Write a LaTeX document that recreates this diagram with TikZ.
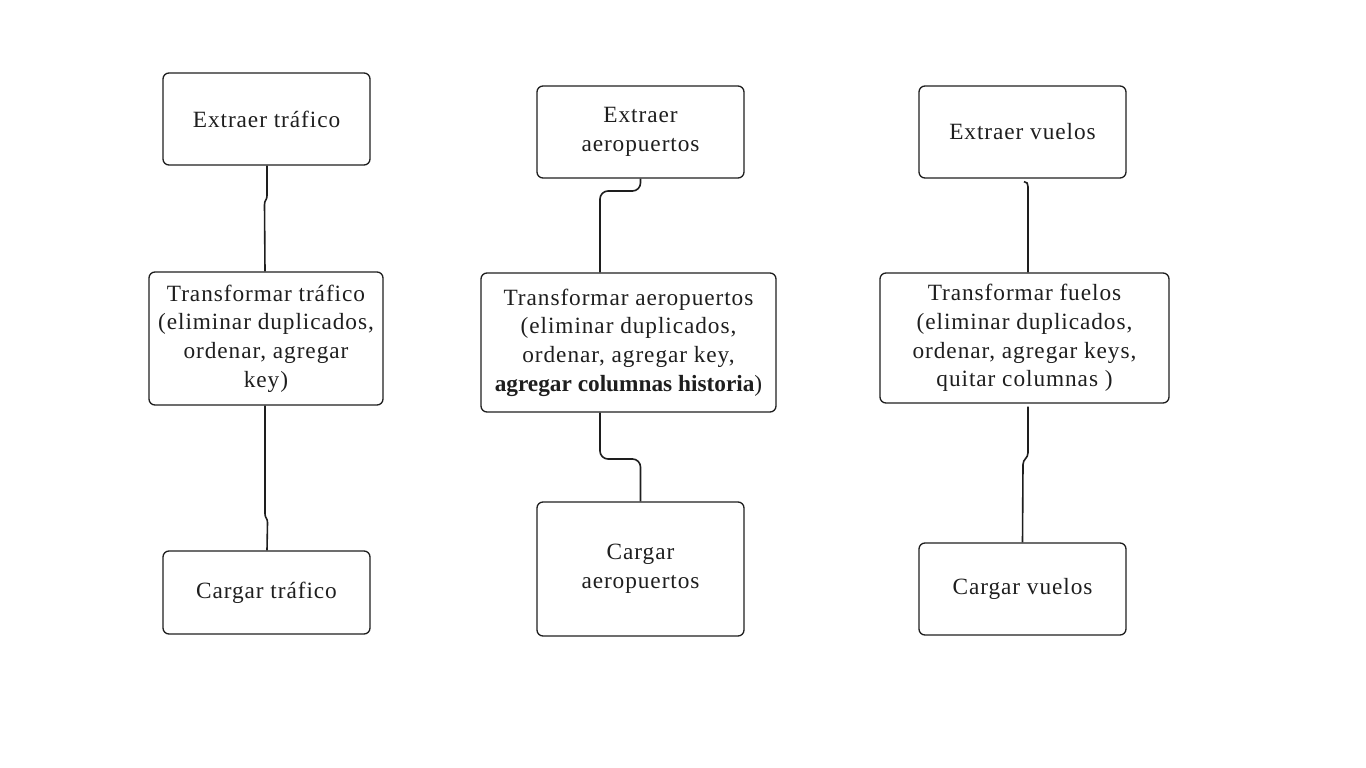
\documentclass[tikz,border=0pt]{standalone}
\usepackage{fontspec}
\setmainfont[LetterSpace=4, BoldFeatures={LetterSpace=0}]{Liberation Serif}
\usetikzlibrary{calc}
\definecolor{ink}{HTML}{1E1E1E}
\tikzset{
  box/.style={draw=ink, line width=1.3pt, rounded corners=6pt, align=center,
    inner sep=0pt, font=\fontsize{23.3}{28.7}\selectfont, text=ink},
  conn/.style={draw=ink, line width=1.6pt},
}
\begin{document}
\begin{tikzpicture}[x=1pt,y=-1pt]
\useasboundingbox (0,0) rectangle (1366,768);
% column 1
\node[box, minimum width=207pt, minimum height=92pt] (e1) at (266.5,119) {Extraer tráfico};
\node[box, minimum width=234pt, minimum height=133pt] (t1) at (266,338.5) {Transformar tráfico\\(eliminar duplicados,\\ordenar, agregar\\key)};
\node[box, minimum width=207pt, minimum height=83pt] (c1) at (266.5,592.5) {Cargar tráfico};
% column 2
\node[box, minimum width=207pt, minimum height=92pt] (e2) at (640.5,132) {Extraer\\aeropuertos};
\node[box, minimum width=295pt, minimum height=139pt] (t2) at (628.5,342.5) {Transformar aeropuertos\\(eliminar duplicados,\\ordenar, agregar key,\\\textbf{agregar columnas historia})};
\node[box, minimum width=207pt, minimum height=134pt] (c2) at (640.5,569) {Cargar\\aeropuertos};
% column 3
\node[box, minimum width=207pt, minimum height=92pt] (e3) at (1022.5,132) {Extraer vuelos};
\node[box, minimum width=289pt, minimum height=130pt] (t3) at (1024.5,338) {Transformar fuelos\\(eliminar duplicados,\\ordenar, agregar keys,\\quitar columnas )};
\node[box, minimum width=207pt, minimum height=92pt] (c3) at (1022.5,589) {Cargar vuelos};
% connectors column 1
\draw[conn] ($(e1.south)+(0.5,0)$) -- ++(0,30) .. controls +(0,5) and +(0,-5) .. ++(-2.5,9) -- ($(t1.north)+(-1,0)$);
\draw[conn] ($(t1.south)+(-1,0)$) -- ++(0,108) .. controls +(0,5) and +(0,-5) .. ++(2.5,9) -- ($(c1.north)+(0.5,0)$);
% connectors column 2
\coordinate (k2) at (600,191);
\coordinate (m2) at (600,459);
\draw[conn, rounded corners=8pt] (e2.south) |- (k2) -- (k2 |- t2.north);
\draw[conn, rounded corners=8pt] (m2 |- t2.south) -- (m2) -| (c2.north);
% connectors column 3
\draw[conn] ($(e3.south)+(1.5,3)$) .. controls +(3,0) and +(0,-3) .. ++(4,5) -- ($(t3.north)+(3.5,0)$);
\draw[conn] ($(t3.south)+(3.5,3)$) -- ++(0,46) .. controls +(0,6) and +(0,-6) .. ++(-5,12) -- (c3.north);
\end{tikzpicture}
\end{document}
